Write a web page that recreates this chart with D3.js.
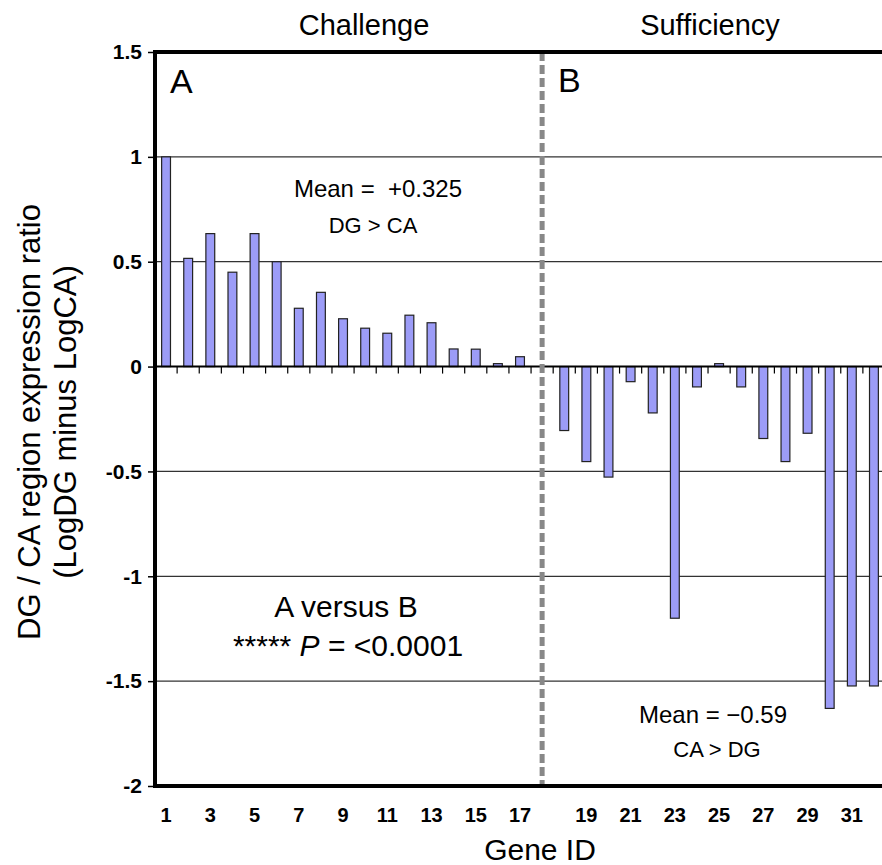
<!DOCTYPE html>
<html>
<head>
<meta charset="utf-8">
<script src="https://cdn.jsdelivr.net/npm/d3@7"></script>
<style>
  body { margin: 0; background: #fff; }
  text { font-family: "Liberation Sans", Arial, sans-serif; fill: #000; }
</style>
</head>
<body>
<svg></svg>
<script>
var width = 882
var height = 865

/* Data */
var challengeIds = ["1","2","3","4","5","6","7","8","9","10","11","12","13","14","15","16","17"]
var challengeValues = [1.0, 0.516, 0.634, 0.45, 0.634, 0.5, 0.278, 0.354, 0.228, 0.183, 0.159, 0.245, 0.209, 0.084, 0.083, 0.014, 0.047]
var sufficiencyIds = ["18","19","20","21","22","23","24","25","26","27","28","29","30","31","32"]
var sufficiencyValues = [-0.305, -0.453, -0.527, -0.072, -0.221, -1.2, -0.097, 0.014, -0.097, -0.343, -0.453, -0.318, -1.63, -1.523, -1.523]
var gapSlot = "gap"
var xTickLabels = ["1","3","5","7","9","11","13","15","17","19","21","23","25","27","29","31"]
var yTickValues = [-2, -1.5, -1, -0.5, 0, 0.5, 1, 1.5]
var yTickLabels = ["-2", "-1.5", "-1", "-0.5", "0", "0.5", "1", "1.5"]
var gridValues = [1, 0.5, -0.5, -1, -1.5]

var plotLeft = 155, plotRight = 885, plotTop = 52, plotBottom = 786

var slots = challengeIds.concat([gapSlot], sufficiencyIds)
var bars = challengeIds.map((id, i) => ({ id: id, v: challengeValues[i] }))
    .concat(sufficiencyIds.map((id, i) => ({ id: id, v: sufficiencyValues[i] })))

var svg = d3.select("svg")
    .attr("width", width)
    .attr("height", height)

/* Scales */
var x = d3.scaleBand()
    .domain(slots)
    .range([plotLeft, plotRight])
    .paddingInner(0.6)
    .paddingOuter(0.3)

var y = d3.scaleLinear()
    .domain([-2, 1.5])
    .range([plotBottom, plotTop])

var step = x.step()

/* Gridlines */
svg.append("g")
    .selectAll("line")
    .data(gridValues)
    .enter()
        .append("line")
            .attr("x1", plotLeft)
            .attr("x2", width)
            .attr("y1", (d) => y(d))
            .attr("y2", (d) => y(d))
            .attr("stroke", "#333")
            .attr("stroke-width", 1.2)

/* Bars */
svg.append("g")
    .selectAll("rect")
    .data(bars)
    .enter()
        .append("rect")
            .attr("x", (d) => x(d.id))
            .attr("width", x.bandwidth())
            .attr("y", (d) => y(Math.max(0, d.v)))
            .attr("height", (d) => Math.abs(y(d.v) - y(0)))
            .attr("fill", "#9c9cf7")
            .attr("stroke", "#222")
            .attr("stroke-width", 1.2)

/* Zero line and its ticks between slots */
svg.append("line")
    .attr("x1", plotLeft).attr("x2", width)
    .attr("y1", y(0)).attr("y2", y(0))
    .attr("stroke", "#000")
    .attr("stroke-width", 2)

svg.append("g")
    .selectAll("line")
    .data(slots.slice(1))
    .enter()
        .append("line")
            .attr("x1", (d) => x(d) + x.bandwidth() / 2 - step / 2)
            .attr("x2", (d) => x(d) + x.bandwidth() / 2 - step / 2)
            .attr("y1", y(0))
            .attr("y2", y(0) + 7)
            .attr("stroke", "#000")
            .attr("stroke-width", 1.2)

/* Divider */
svg.append("line")
    .attr("x1", x(gapSlot) + x.bandwidth() / 2)
    .attr("x2", x(gapSlot) + x.bandwidth() / 2)
    .attr("y1", plotTop)
    .attr("y2", plotBottom)
    .attr("stroke", "#888")
    .attr("stroke-width", 5)
    .attr("stroke-dasharray", "9,4")

/* Frame */
svg.append("line")
    .attr("x1", plotLeft - 2).attr("x2", width)
    .attr("y1", plotTop).attr("y2", plotTop)
    .attr("stroke", "#000").attr("stroke-width", 4)
svg.append("line")
    .attr("x1", plotLeft - 2).attr("x2", width)
    .attr("y1", plotBottom).attr("y2", plotBottom)
    .attr("stroke", "#000").attr("stroke-width", 4)

/* Y axis */
var yAxis = d3.axisLeft(y)
    .tickValues(yTickValues)
    .tickFormat((d, i) => yTickLabels[i])
    .tickSize(7)
    .tickPadding(6)

var gy = svg.append("g")
    .attr("transform", "translate(" + plotLeft + ",0)")
    .call(yAxis)
gy.select(".domain").remove()
gy.selectAll("line").attr("stroke", "#000").attr("stroke-width", 1.5)
gy.selectAll("text")
    .style("font-family", "'Liberation Sans', Arial, sans-serif")
    .style("font-size", "21px")
    .style("font-weight", "bold")
    .attr("fill", "#000")

svg.append("line")
    .attr("x1", plotLeft).attr("x2", plotLeft)
    .attr("y1", plotTop - 2).attr("y2", plotBottom + 2)
    .attr("stroke", "#000").attr("stroke-width", 4)

/* X tick labels */
svg.append("g")
    .selectAll("text")
    .data(xTickLabels)
    .enter()
        .append("text")
            .attr("x", (d) => x(d) + x.bandwidth() / 2)
            .attr("y", 822)
            .attr("text-anchor", "middle")
            .style("font-size", "20px")
            .style("font-weight", "bold")
            .text((d) => d)

/* Titles */
svg.append("text")
    .attr("x", 540).attr("y", 860)
    .attr("text-anchor", "middle")
    .style("font-size", "30px")
    .text("Gene ID")

var yTitle = svg.append("g")
    .attr("transform", "translate(0,422) rotate(-90)")
yTitle.append("text")
    .attr("x", 0).attr("y", 40)
    .attr("text-anchor", "middle")
    .style("font-size", "31px")
    .text("DG / CA region expression ratio")
yTitle.append("text")
    .attr("x", 0).attr("y", 76)
    .attr("text-anchor", "middle")
    .style("font-size", "31px")
    .text("(LogDG minus LogCA)")

svg.append("text")
    .attr("x", 364).attr("y", 35)
    .attr("text-anchor", "middle")
    .style("font-size", "29px")
    .text("Challenge")
svg.append("text")
    .attr("x", 710).attr("y", 35)
    .attr("text-anchor", "middle")
    .style("font-size", "29px")
    .text("Sufficiency")

svg.append("text")
    .attr("x", 170).attr("y", 93)
    .style("font-size", "34px")
    .text("A")
svg.append("text")
    .attr("x", 558).attr("y", 92)
    .style("font-size", "34px")
    .text("B")

/* Annotations */
svg.append("text")
    .attr("x", 378).attr("y", 197)
    .attr("text-anchor", "middle")
    .style("font-size", "24px")
    .style("white-space", "pre")
    .text("Mean =  +0.325")
svg.append("text")
    .attr("x", 373).attr("y", 233)
    .attr("text-anchor", "middle")
    .style("font-size", "22px")
    .text("DG > CA")

svg.append("text")
    .attr("x", 713).attr("y", 723)
    .attr("text-anchor", "middle")
    .style("font-size", "24px")
    .text("Mean = \u22120.59")
svg.append("text")
    .attr("x", 717).attr("y", 757)
    .attr("text-anchor", "middle")
    .style("font-size", "22px")
    .text("CA > DG")

svg.append("text")
    .attr("x", 346).attr("y", 617)
    .attr("text-anchor", "middle")
    .style("font-size", "30px")
    .text("A versus B")
var pText = svg.append("text")
    .attr("x", 348).attr("y", 656)
    .attr("text-anchor", "middle")
    .style("font-size", "30px")
    .style("white-space", "pre")
pText.append("tspan").text("***** ")
pText.append("tspan").style("font-style", "italic").text("P")
pText.append("tspan").text(" = <0.0001")
</script>
</body>
</html>
